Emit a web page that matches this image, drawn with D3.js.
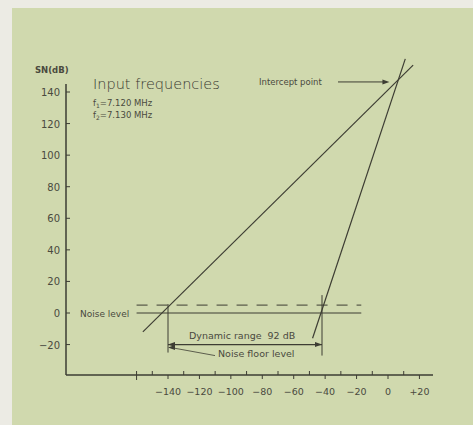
<!DOCTYPE html>
<html>
<head>
<meta charset="utf-8">
<script src="https://cdn.jsdelivr.net/npm/d3@7"></script>
<style>
  body { margin: 0; background: #ecebe4; }
  svg { display: block; }
  text { font-family: "DejaVu Sans", sans-serif; fill: #4a4a3e; white-space: pre; }
</style>
</head>
<body>
<svg id="svg1" width="473" height="425"></svg>
<script>
// chart data
var yTicks = [-20, 0, 20, 40, 60, 80, 100, 120, 140];
var xTicks = [-140, -120, -100, -80, -60, -40, -20, 0, 20];
var xMinorTicks = [-160, -150, -130, -110, -90, -70, -50, -30, -10, 10];
var fundamental = [[-156, -12], [16, 157]];      // 1st order response
var thirdOrder = [[-48, -16], [11, 161]];        // 3rd order products
var noiseLevel = 0;
var noiseFloorDashed = 5;
var noiseSpan = [-160, -17];
var dynamicRange = [-140, -42];
var rangeArrowY = -20;
var interceptPt = [6, 147];

var svg = d3.select('svg');
var ink = '#3d3d33';

// paper
svg.append('rect').attr('x', 12).attr('y', 8).attr('width', 461).attr('height', 417)
    .attr('fill', '#d0d9ae');

var x = d3.scaleLinear().domain([-140, 0]).range([168, 388]);
var y = d3.scaleLinear().domain([0, 140]).range([313, 92]);

var axisY = 375;   // x axis position (pixels)
var axisX = 66;    // y axis position

// y axis
svg.append('line').attr('x1', axisX).attr('x2', axisX)
    .attr('y1', y(145)).attr('y2', axisY)
    .attr('stroke', ink).attr('stroke-width', 1.5);
svg.selectAll('.ytick').data(yTicks).enter().append('line')
    .attr('x1', axisX).attr('x2', axisX + 4)
    .attr('y1', function(d) { return y(d); }).attr('y2', function(d) { return y(d); })
    .attr('stroke', ink).attr('stroke-width', 1);
svg.selectAll('.ylab').data(yTicks).enter().append('text')
    .attr('x', axisX - 6).attr('y', function(d) { return y(d) + 4; })
    .attr('text-anchor', 'end').attr('font-size', 10)
    .text(function(d) { return d < 0 ? '\u2212' + Math.abs(d) : d; });

// x axis
svg.append('line').attr('x1', axisX).attr('x2', 433)
    .attr('y1', axisY).attr('y2', axisY)
    .attr('stroke', ink).attr('stroke-width', 1.5);
svg.selectAll('.xtick').data(xTicks).enter().append('line')
    .attr('x1', function(d) { return x(d); }).attr('x2', function(d) { return x(d); })
    .attr('y1', axisY).attr('y2', axisY + 4)
    .attr('stroke', ink).attr('stroke-width', 1);
svg.selectAll('.xminor').data(xMinorTicks).enter().append('line')
    .attr('x1', function(d) { return x(d); }).attr('x2', function(d) { return x(d); })
    .attr('y1', axisY - 4).attr('y2', function(d) { return d === -160 ? axisY + 5 : axisY; })
    .attr('stroke', ink).attr('stroke-width', 1);
svg.selectAll('.xlab').data(xTicks).enter().append('text')
    .attr('x', function(d) { return x(d); }).attr('y', axisY + 20)
    .attr('text-anchor', 'middle').attr('font-size', 9.5)
    .text(function(d) { return d < 0 ? '\u2212' + Math.abs(d) : (d > 0 ? '+' + d : d); });

var line = d3.line().x(function(d) { return x(d[0]); }).y(function(d) { return y(d[1]); });

// noise lines
svg.append('path').attr('d', line([[noiseSpan[0], noiseLevel], [noiseSpan[1], noiseLevel]]))
    .attr('stroke', ink).attr('stroke-width', 1).attr('fill', 'none');
svg.append('path').attr('d', line([[noiseSpan[0], noiseFloorDashed], [noiseSpan[1], noiseFloorDashed]]))
    .attr('stroke', ink).attr('stroke-width', 1).attr('fill', 'none')
    .attr('stroke-dasharray', '11,9');

// response lines
[fundamental, thirdOrder].forEach(function(p) {
    svg.append('path').attr('d', line(p))
        .attr('stroke', ink).attr('stroke-width', 1.2).attr('fill', 'none');
});

// dynamic range markers
svg.append('line').attr('x1', x(dynamicRange[0])).attr('x2', x(dynamicRange[0]))
    .attr('y1', y(noiseFloorDashed) - 1).attr('y2', y(rangeArrowY) + 8)
    .attr('stroke', ink).attr('stroke-width', 1);
svg.append('line').attr('x1', x(dynamicRange[1])).attr('x2', x(dynamicRange[1]))
    .attr('y1', y(noiseFloorDashed) - 10).attr('y2', y(rangeArrowY) + 11)
    .attr('stroke', ink).attr('stroke-width', 1);
svg.append('line').attr('x1', x(dynamicRange[0])).attr('x2', x(dynamicRange[1]))
    .attr('y1', y(rangeArrowY)).attr('y2', y(rangeArrowY))
    .attr('stroke', ink).attr('stroke-width', 1.2);
var ax0 = x(dynamicRange[0]), ax1 = x(dynamicRange[1]), ay = y(rangeArrowY);
svg.append('path').attr('d', 'M' + ax0 + ',' + ay + 'l7,-2.5v5z').attr('fill', ink);
svg.append('path').attr('d', 'M' + ax0 + ',' + (ay + 3) + 'l7,-2.5v5z').attr('fill', ink);
svg.append('path').attr('d', 'M' + ax1 + ',' + ay + 'l-7,-2.5v5z').attr('fill', ink);
svg.append('line').attr('x1', ax0 + 3).attr('x2', ax0 + 47)
    .attr('y1', ay + 3).attr('y2', ay + 11).attr('stroke', ink).attr('stroke-width', 0.8);

// labels
svg.append('text').attr('x', 35).attr('y', 73).attr('font-size', 8.5).attr('font-weight', 'bold')
    .text('SN(dB)');
svg.append('text').attr('x', 93).attr('y', 89).attr('font-size', 14.5)
    .style('font-weight', 300).style('fill', '#38382e').text('Input frequencies');
var f1 = svg.append('text').attr('x', 93).attr('y', 106).attr('font-size', 8.5);
f1.append('tspan').text('f');
f1.append('tspan').attr('font-size', 6).attr('dy', 2).text('1');
f1.append('tspan').attr('dy', -2).text('=7.120 MHz');
var f2 = svg.append('text').attr('x', 93).attr('y', 118).attr('font-size', 8.5);
f2.append('tspan').text('f');
f2.append('tspan').attr('font-size', 6).attr('dy', 2).text('2');
f2.append('tspan').attr('dy', -2).text('=7.130 MHz');

svg.append('text').attr('x', 259).attr('y', 85).attr('font-size', 8.5).text('Intercept point');
svg.append('line').attr('x1', 338).attr('x2', 386)
    .attr('y1', y(interceptPt[1]) + 1).attr('y2', y(interceptPt[1]) + 1)
    .attr('stroke', ink).attr('stroke-width', 1);
svg.append('path').attr('d', 'M' + (x(interceptPt[0]) - 8) + ',' + (y(interceptPt[1]) + 1) + 'l-7,-2.5v5z')
    .attr('fill', ink);

svg.append('text').attr('x', 80).attr('y', 317).attr('font-size', 9).text('Noise level');
svg.append('text').attr('x', 189).attr('y', 339).attr('font-size', 9.5).text('Dynamic range  92 dB');
svg.append('text').attr('x', 218).attr('y', 357).attr('font-size', 9.5).text('Noise floor level');
</script>
</body>
</html>
